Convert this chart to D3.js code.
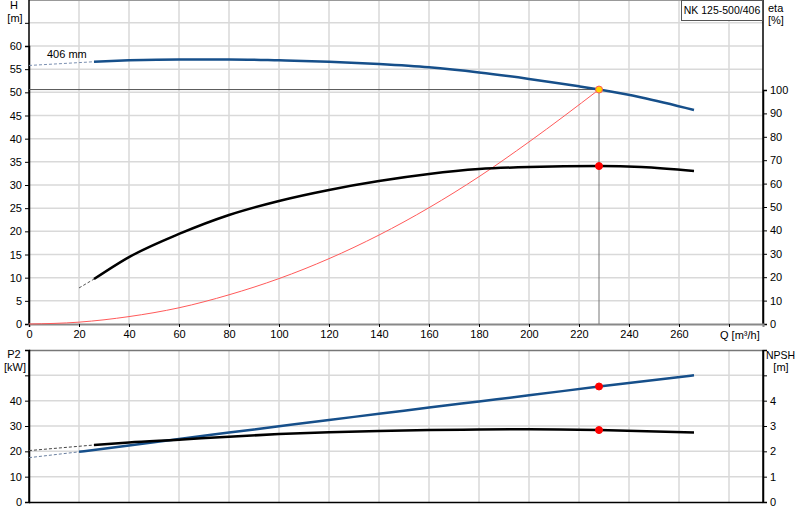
<!DOCTYPE html><html><head><meta charset="utf-8"><script src="https://cdn.jsdelivr.net/npm/d3@7"></script>
<style>body{margin:0;background:#fff}text{font-family:Arial,"Liberation Sans",sans-serif;font-size:11px;fill:#000}</style></head><body><svg id="c" width="800" height="520"></svg><script>
const qTicks=[0,20,40,60,80,100,120,140,160,180,200,220,240,260];
const hQ=[26,40,60,80,100,120,140,160,180,200,220,228,245,266];
const hV=[56.6,56.9,57.1,57.1,56.9,56.6,56.1,55.4,54.3,52.9,51.3,50.6,48.9,46.2];
const hDashQ=[0,26],hDashV=[55.8,56.6];
const etaQ=[26,40,60,80,100,120,140,160,180,200,228,245,266];
const etaV=[19.2,28.6,38.5,46.6,52.6,57.3,61.1,64.1,66.2,67.1,67.5,67.1,65.4];
const etaDashQ=[20,26],etaDashV=[15.4,19.2];
const sysQ=[0,20,40,60,80,100,120,140,160,180,200,228];
const sysV=[0,0.4,1.6,3.5,6.3,9.8,14.1,19.2,25.1,31.8,39.3,50.6];
const p2Q=[20,40,60,80,100,120,140,160,180,200,228,266];
const p2V=[19.8,22.3,24.9,27.4,29.9,32.4,34.8,37.3,39.7,42.1,45.6,50.0];
const p2DashQ=[0,20],p2DashV=[17.5,19.8];
const npQ=[26,40,60,80,100,120,140,160,180,200,228,266];
const npV=[2.25,2.35,2.46,2.58,2.68,2.75,2.80,2.84,2.86,2.87,2.84,2.74];
const npDashQ=[0,26],npDashV=[2.03,2.25];
const opQ=228,opH=50.6,opEta=67.5,opP2=45.6,opNp=2.84;
const hTicks=[0,5,10,15,20,25,30,35,40,45,50,55,60],etaTicks=[0,10,20,30,40,50,60,70,80,90,100];
const p2Ticks=[0,10,20,30,40],npTicks=[0,1,2,3,4];

const svg=d3.select("#c");
const x=d3.scaleLinear().domain([0,293.6]).range([29,763]);
const yH=d3.scaleLinear().domain([0,60]).range([324,46]);
const yE=d3.scaleLinear().domain([0,100]).range([324,90]);
const yP=d3.scaleLinear().domain([0,60]).range([502,350]);
const yN=d3.scaleLinear().domain([0,6]).range([502,350]);
const grid="#d9d9d9";
function vgrid(y0,y1){for(let q=20;q<=280;q+=20)svg.append("line").attr("x1",x(q)).attr("x2",x(q)).attr("y1",y0).attr("y2",y1).attr("stroke",grid).attr("stroke-width",1.5);}
vgrid(0,324);vgrid(350,502);
for(let h=5;h<=70;h+=5)svg.append("line").attr("x1",29).attr("x2",763).attr("y1",yH(h)).attr("y2",yH(h)).attr("stroke",grid).attr("stroke-width",1.5);
for(let p=10;p<=50;p+=10)svg.append("line").attr("x1",29).attr("x2",763).attr("y1",yP(p)).attr("y2",yP(p)).attr("stroke",grid).attr("stroke-width",1.5);
svg.append("line").attr("x1",29).attr("x2",763).attr("y1",0.5).attr("y2",0.5).attr("stroke","#999");
svg.append("line").attr("x1",29).attr("x2",763).attr("y1",350.5).attr("y2",350.5).attr("stroke","#777").attr("stroke-width",1.5);
const ax=(g,a)=>{g.call(a);g.select(".domain").attr("stroke","#000").attr("stroke-width",1.5);g.selectAll("text").style("font-size","11px");};
ax(svg.append("g").attr("transform","translate(29,0)"),d3.axisLeft(yH).tickValues(hTicks.concat([65])).tickFormat(d=>d==65?"":d).tickSizeOuter(0).tickSize(4));
svg.append("line").attr("x1",29).attr("x2",29).attr("y1",0).attr("y2",324).attr("stroke","#000").attr("stroke-width",1.5);
ax(svg.append("g").attr("transform","translate(763,0)"),d3.axisRight(yE).tickValues(etaTicks).tickSizeOuter(0).tickSize(4));
svg.append("line").attr("x1",763).attr("x2",763).attr("y1",0).attr("y2",324).attr("stroke","#000").attr("stroke-width",1.5);
const gx=svg.append("g").attr("transform","translate(0,324)");
ax(gx,d3.axisBottom(x).tickValues(qTicks.concat([280])).tickFormat(d=>d==280?"":d).tickSizeOuter(0).tickSize(3));
gx.select(".domain").attr("stroke","#888").attr("stroke-width",2);
svg.append("text").attr("x",720).attr("y",339).text("Q [m³/h]");
ax(svg.append("g").attr("transform","translate(29,0)"),d3.axisLeft(yP).tickValues(p2Ticks.concat([50])).tickFormat(d=>d==50?"":d).tickSizeOuter(0).tickSize(4));
svg.append("line").attr("x1",29).attr("x2",29).attr("y1",350).attr("y2",502).attr("stroke","#000").attr("stroke-width",1.5);
ax(svg.append("g").attr("transform","translate(763,0)"),d3.axisRight(yN).tickValues(npTicks.concat([5])).tickFormat(d=>d==5?"":d).tickSizeOuter(0).tickSize(4));
svg.append("line").attr("x1",763).attr("x2",763).attr("y1",350).attr("y2",502).attr("stroke","#000").attr("stroke-width",1.5);
svg.append("line").attr("x1",29).attr("x2",763).attr("y1",502.5).attr("y2",502.5).attr("stroke","#000").attr("stroke-width",1.5);
const t=(x0,y0,s,a)=>svg.append("text").attr("x",x0).attr("y",y0).attr("text-anchor",a||"middle").text(s);
t(14,9,"H");t(15,22,"[m]");t(768,12,"eta","start");t(768,24,"[%]","start");
t(14,358,"P2");t(15,371,"[kW]");t(766,359,"NPSH","start").style("font-size","10.5px");t(781,371,"[m]");
t(47,58,"406 mm","start");
svg.append("rect").attr("x",681.5).attr("y",0.5).attr("width",81).attr("height",20).attr("fill","#fff").attr("stroke","#555");
t(722,14,"NK 125-500/406").style("font-size","10.5px");
const L=(xs,ys,sy)=>d3.line().x((d,i)=>x(xs[i])).y((d,i)=>sy(ys[i])).curve(d3.curveMonotoneX)(xs);
const path=(xs,ys,sy,c,w,dash)=>svg.append("path").attr("d",L(xs,ys,sy)).attr("fill","none").attr("stroke",c).attr("stroke-width",w).attr("stroke-dasharray",dash||null);
svg.append("line").attr("x1",29).attr("x2",x(opQ)).attr("y1",yH(opH)).attr("y2",yH(opH)).attr("stroke","#555");
svg.append("line").attr("x1",x(opQ)).attr("x2",x(opQ)).attr("y1",yH(opH)).attr("y2",324).attr("stroke","#777");
path(sysQ,sysV,yH,"#ff5a5a",1);
path(hDashQ,hDashV,yH,"#7a8fb0",1,"3,2");path(hQ,hV,yH,"#164f8a",2.5);
path(etaDashQ,etaDashV,yE,"#555",1,"3,2");path(etaQ,etaV,yE,"#000",2.5);
path(p2DashQ,p2DashV,yP,"#6a7fa0",1,"3,2");path(p2Q,p2V,yP,"#164f8a",2.5);
path(npDashQ,npDashV,yN,"#444",1,"3,2");path(npQ,npV,yN,"#000",2.5);
const dot=(cy,f,s)=>svg.append("circle").attr("cx",x(opQ)).attr("cy",cy).attr("r",3.5).attr("fill",f).attr("stroke",s);
dot(yH(opH),"#ffd700","#f55");dot(yE(opEta),"#f00","#f00");dot(yP(opP2),"#f00","#f00");dot(yN(opNp),"#f00","#f00");
</script></body></html>
